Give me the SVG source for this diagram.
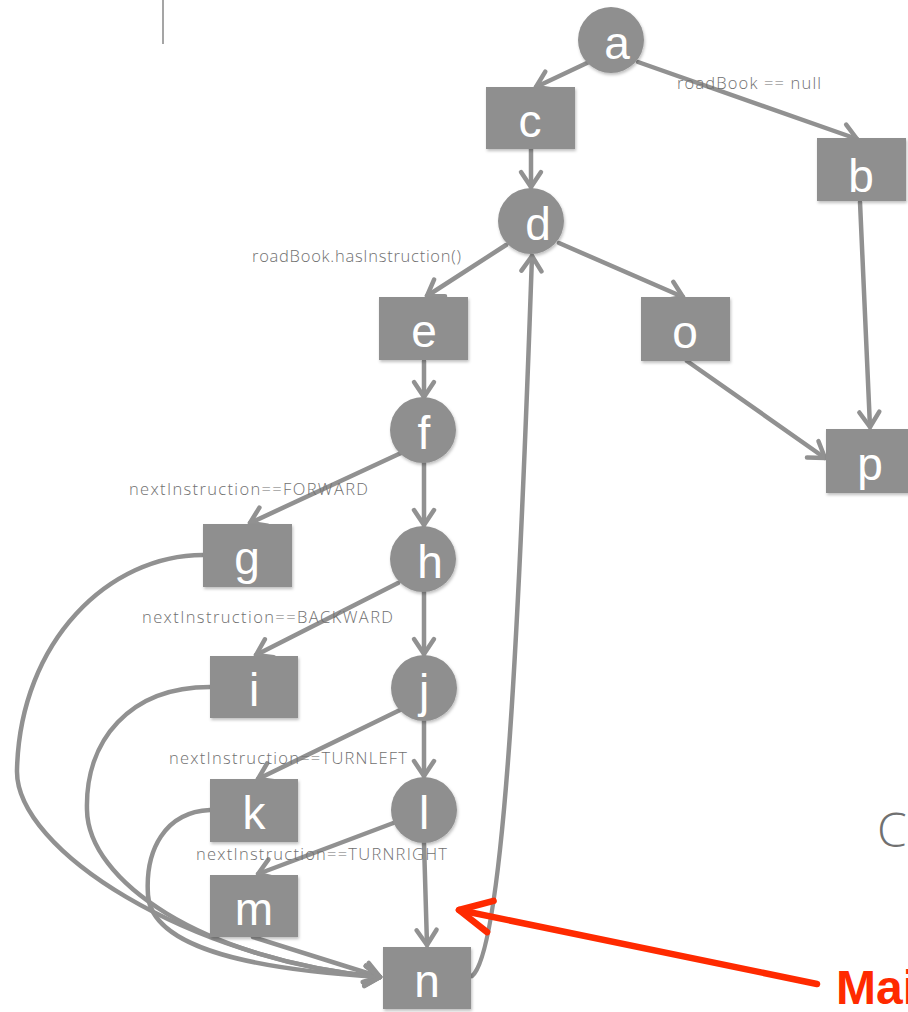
<svg xmlns="http://www.w3.org/2000/svg" width="908" height="1012" viewBox="0 0 908 1012">
  <style>
    .node { fill: #8f8f8f; filter: url(#soft); }
    .nlabel { font-family: "Liberation Sans", Arial, sans-serif; font-size: 46px; fill: #ffffff; text-anchor: middle; }
    .edge { fill: none; stroke: #919191; stroke-width: 4.5; stroke-linecap: round; marker-end: url(#chev); }
    .plain { fill: none; stroke: #919191; stroke-width: 4.5; stroke-linecap: round; }
    .cond { font-family: "Open Sans", "Liberation Sans", sans-serif; font-weight: 300; font-size: 16.5px; fill: #707070; }
  </style>
  <defs>
    <filter id="soft" x="-20%" y="-20%" width="140%" height="150%">
      <feDropShadow dx="1" dy="2" stdDeviation="1.5" flood-color="#000" flood-opacity="0.25"/>
    </filter>
    <marker id="chev" markerUnits="userSpaceOnUse" orient="auto" overflow="visible" markerWidth="20" markerHeight="24" refX="0" refY="0">
      <path d="M-15,-10 L0,0 L-15,10" fill="none" stroke="#919191" stroke-width="4.5" stroke-linecap="round" stroke-linejoin="round"/>
    </marker>
    <marker id="redchev" markerUnits="userSpaceOnUse" orient="auto" overflow="visible" markerWidth="40" markerHeight="40" refX="0" refY="0">
      <path d="M-32,-16 L0,0 L-32,16" fill="none" stroke="#ff2a00" stroke-width="6.5" stroke-linecap="round" stroke-linejoin="round"/>
    </marker>
  </defs>

  <rect width="908" height="1012" fill="#ffffff"/>

  <!-- thin divider at the top left -->
  <line x1="163" y1="0" x2="163" y2="44" stroke="#a5a5a5" stroke-width="2"/>

  <!-- connectors -->
  <g id="connectors">
    <path class="edge" d="M589,62 L536,87"/>
    <path class="edge" d="M638,62 L857,139"/>
    <path class="edge" d="M531,149 L531,187"/>
    <path class="edge" d="M860,202 L870,427"/>
    <path class="edge" d="M506,245 L427,296"/>
    <path class="edge" d="M559,243 L683,297"/>
    <path class="edge" d="M687,361 L825,458"/>
    <path class="edge" d="M424,361 L424,397"/>
    <path class="edge" d="M401,453 L250,523"/>
    <path class="edge" d="M424,463 L424,525"/>
    <path class="edge" d="M398,583 L256,655"/>
    <path class="edge" d="M424,592 L424,654"/>
    <path class="edge" d="M400,710 L258,779"/>
    <path class="edge" d="M424,721 L424,776"/>
    <path class="edge" d="M396,822 L258,874"/>
    <path class="edge" d="M424,843 L427,945"/>
    <path class="edge" d="M253,937 L380,977"/>
    <path class="edge" d="M203,555 C110,555 20,640 17,770 C15,850 190,960 380,977"/>
    <path class="edge" d="M210,687 C130,687 85,740 87,810 C88,880 200,960 380,977"/>
    <path class="edge" d="M210,810 C165,812 145,850 148,895 C152,950 260,970 380,977"/>
    <path class="edge" d="M472,976 C505,950 520,600 532,256"/>
  </g>

  <!-- branch conditions -->
  <g id="conditions">
    <text class="cond" x="677" y="89" textLength="144">roadBook == null</text>
    <text class="cond" x="252" y="262" textLength="209">roadBook.hasInstruction()</text>
    <text class="cond" x="129" y="495" textLength="239">nextInstruction==FORWARD</text>
    <text class="cond" x="142" y="623" textLength="251">nextInstruction==BACKWARD</text>
    <text class="cond" x="169" y="764" textLength="238">nextInstruction==TURNLEFT</text>
    <text class="cond" x="196" y="860" textLength="251">nextInstruction==TURNRIGHT</text>
  </g>

  <!-- nodes -->
  <g id="node-a"><circle class="node" cx="611" cy="40" r="33"/><text class="nlabel" x="617" y="59">a</text></g>
  <g id="node-b"><rect class="node" x="817" y="138" width="89" height="63"/><text class="nlabel" x="861" y="192">b</text></g>
  <g id="node-c"><rect class="node" x="486" y="87" width="89" height="62"/><text class="nlabel" x="530" y="137">c</text></g>
  <g id="node-d"><circle class="node" cx="531" cy="221" r="33"/><text class="nlabel" x="538" y="240">d</text></g>
  <g id="node-e"><rect class="node" x="379" y="297" width="89" height="63"/><text class="nlabel" x="424" y="347">e</text></g>
  <g id="node-o"><rect class="node" x="641" y="297" width="89" height="64"/><text class="nlabel" x="685" y="348">o</text></g>
  <g id="node-f"><circle class="node" cx="423" cy="430" r="33"/><text class="nlabel" x="424" y="449">f</text></g>
  <g id="node-p"><rect class="node" x="826" y="429" width="89" height="64"/><text class="nlabel" x="870" y="480">p</text></g>
  <g id="node-g"><rect class="node" x="203" y="524" width="89" height="63"/><text class="nlabel" x="247" y="574">g</text></g>
  <g id="node-h"><circle class="node" cx="423" cy="559" r="33"/><text class="nlabel" x="430" y="578">h</text></g>
  <g id="node-i"><rect class="node" x="210" y="656" width="88" height="62"/><text class="nlabel" x="254" y="706">i</text></g>
  <g id="node-j"><circle class="node" cx="424" cy="688" r="33"/><text class="nlabel" x="424" y="707">j</text></g>
  <g id="node-k"><rect class="node" x="210" y="779" width="88" height="63"/><text class="nlabel" x="254" y="829">k</text></g>
  <g id="node-l"><circle class="node" cx="424" cy="810" r="33"/><text class="nlabel" x="424" y="829">l</text></g>
  <g id="node-m"><rect class="node" x="210" y="875" width="88" height="62"/><text class="nlabel" x="254" y="925">m</text></g>
  <g id="node-n"><rect class="node" x="383" y="947" width="88" height="62"/><text class="nlabel" x="427" y="997">n</text></g>

  <!-- side caption and pointer -->
  <text x="877" y="847" font-family="Open Sans, Liberation Sans, sans-serif" font-weight="300" font-size="48" fill="#707070">C</text>
  <line x1="817" y1="984" x2="459" y2="910" stroke="#ff2a00" stroke-width="6.5" stroke-linecap="round" marker-end="url(#redchev)"/>
  <text x="836" y="1004" font-family="Liberation Sans, Arial, sans-serif" font-weight="bold" font-size="48" fill="#ff2a00">Mai</text>
</svg>
